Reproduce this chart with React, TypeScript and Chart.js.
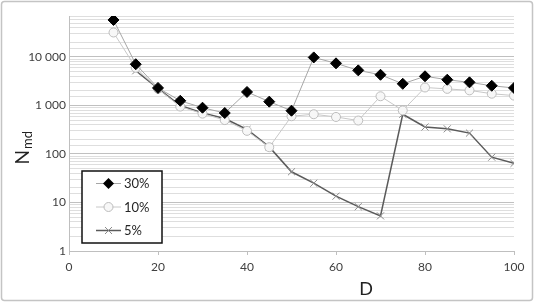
import React, { useEffect, useRef } from "react";
import { Chart, registerables } from "chart.js";

Chart.register(...registerables);

const dValues = [10, 15, 20, 25, 30, 35, 40, 45, 50, 55, 60, 65, 70, 75, 80, 85, 90, 95, 100];
const series30 = [58000, 7100, 2300, 1250, 900, 700, 1900, 1200, 780, 9800, 7400, 5300, 4300, 2800, 4000, 3400, 3000, 2550, 2300];
const series10 = [32000, 6000, 2200, 950, 680, 500, 300, 138, 600, 660, 580, 490, 1550, 790, 2350, 2200, 2050, 1750, 1600];
const series5 = [null, 5200, 2250, 1000, 700, 540, 320, 140, 43, 25, 13.5, 8.2, 5.3, 660, 360, 330, 270, 86, 64];
const seriesNames = ["30%", "10%", "5%"];
const yMajorTicks = [1, 10, 100, 1000, 10000];
const xTickStep = 20;

const FONT = "Lato, 'Open Sans', 'Liberation Sans', sans-serif";

function fmt(v: number) {
  return String(v).replace(/\B(?=(\d{3})+(?!\d))/g, " ");
}

function drawMarker(ctx: CanvasRenderingContext2D, kind: number, x: number, y: number) {
  ctx.save();
  if (kind === 0) {
    const r = 5.5;
    ctx.beginPath();
    ctx.moveTo(x, y - r);
    ctx.lineTo(x + r, y);
    ctx.lineTo(x, y + r);
    ctx.lineTo(x - r, y);
    ctx.closePath();
    ctx.fillStyle = "#000";
    ctx.fill();
  } else if (kind === 1) {
    ctx.beginPath();
    ctx.arc(x, y, 4.5, 0, Math.PI * 2);
    ctx.fillStyle = "#f7f7f7";
    ctx.fill();
    ctx.strokeStyle = "#bdbdbd";
    ctx.lineWidth = 1;
    ctx.stroke();
  } else {
    const r = 3.5;
    ctx.beginPath();
    ctx.moveTo(x - r, y - r);
    ctx.lineTo(x + r, y + r);
    ctx.moveTo(x + r, y - r);
    ctx.lineTo(x - r, y + r);
    ctx.strokeStyle = "#8c8c8c";
    ctx.lineWidth = 1;
    ctx.stroke();
  }
  ctx.restore();
}

const decorPlugin = {
  id: "decor",
  afterDraw(chart: any) {
    const ctx: CanvasRenderingContext2D = chart.ctx;
    ctx.save();
    // outer border
    ctx.strokeStyle = "#c4c4c4";
    ctx.lineWidth = 1.5;
    ctx.beginPath();
    const bx = 1.5, by = 1.5, bw = 531, bh = 299, rr = 3;
    ctx.moveTo(bx + rr, by);
    ctx.arcTo(bx + bw, by, bx + bw, by + bh, rr);
    ctx.arcTo(bx + bw, by + bh, bx, by + bh, rr);
    ctx.arcTo(bx, by + bh, bx, by, rr);
    ctx.arcTo(bx, by, bx + bw, by, rr);
    ctx.closePath();
    ctx.stroke();

    // axis titles
    ctx.fillStyle = "#222";
    ctx.font = `18px ${FONT}`;
    ctx.textAlign = "center";
    ctx.textBaseline = "middle";
    ctx.fillText("D", 366, 289);

    ctx.save();
    ctx.translate(22, 148);
    ctx.rotate(-Math.PI / 2);
    ctx.textAlign = "left";
    ctx.textBaseline = "alphabetic";
    ctx.font = `19px ${FONT}`;
    const nW = ctx.measureText("N").width;
    ctx.fillText("N", -nW - 2, 7);
    ctx.font = `13px ${FONT}`;
    ctx.fillText("md", -1, 10);
    ctx.restore();

    // legend
    const lx = 82, ly = 171, lw = 80, lh = 72;
    ctx.fillStyle = "#fff";
    ctx.fillRect(lx, ly, lw, lh);
    ctx.strokeStyle = "#111";
    ctx.lineWidth = 1.5;
    ctx.strokeRect(lx, ly, lw, lh);
    const rows = [183.5, 207, 230.5];
    const lineColors = ["#a6a6a6", "#c8c8c8", "#5a5a5a"];
    const lineWidths = [1, 1, 1.5];
    ctx.font = `13px ${FONT}`;
    ctx.textAlign = "left";
    ctx.textBaseline = "middle";
    rows.forEach((yy, i) => {
      ctx.strokeStyle = lineColors[i];
      ctx.lineWidth = lineWidths[i];
      ctx.beginPath();
      ctx.moveTo(96, yy);
      ctx.lineTo(121, yy);
      ctx.stroke();
      drawMarker(ctx, i, 108.5, yy);
      ctx.fillStyle = "#262626";
      ctx.fillText(seriesNames[i], 124, yy + 0.5);
    });
    ctx.restore();
  },
};

export default function App() {
  const ref = useRef<HTMLCanvasElement>(null);
  useEffect(() => {
    document.body.style.margin = "0";
    const canvas = ref.current!;
    const toPts = (arr: (number | null)[]) => dValues.map((d, i) => ({ x: d, y: arr[i] }));
    const chart = new Chart(canvas, {
      type: "line",
      data: {
        datasets: [
          {
            label: seriesNames[0],
            data: toPts(series30) as any,
            borderColor: "#a6a6a6",
            borderWidth: 1,
            pointStyle: "rectRot",
            pointRadius: 5.5,
            pointBackgroundColor: "#000",
            pointBorderColor: "#000",
            pointBorderWidth: 1,
            order: 1,
          },
          {
            label: seriesNames[1],
            data: toPts(series10) as any,
            borderColor: "#c8c8c8",
            borderWidth: 1,
            pointStyle: "circle",
            pointRadius: 4.5,
            pointBackgroundColor: "#f7f7f7",
            pointBorderColor: "#bdbdbd",
            pointBorderWidth: 1,
            order: 2,
          },
          {
            label: seriesNames[2],
            data: toPts(series5) as any,
            borderColor: "#5a5a5a",
            borderWidth: 1.5,
            pointStyle: "crossRot",
            pointRadius: 5,
            pointBorderColor: "#8c8c8c",
            pointBorderWidth: 1,
            order: 3,
          },
        ],
      },
      options: {
        animation: false,
        responsive: false,
        devicePixelRatio: 1,
        layout: { padding: { left: 0, right: 22, top: 16, bottom: 0 } },
        plugins: { legend: { display: false }, tooltip: { enabled: false } },
        scales: {
          x: {
            type: "linear",
            min: 0,
            max: 100,
            ticks: {
              stepSize: xTickStep,
              color: "#404040",
              font: { family: FONT, size: 12 },
              padding: 5,
              maxRotation: 0,
            },
            grid: { drawOnChartArea: false, drawTicks: true, tickLength: 4, color: "#bfbfbf" },
            border: { display: true, color: "#bfbfbf" },
            afterFit: (s: any) => {
              s.height = 52;
            },
          },
          y: {
            type: "logarithmic",
            min: 1,
            max: 70000,
            ticks: {
              autoSkip: false,
              color: "#404040",
              font: { family: FONT, size: 12 },
              padding: 3,
              callback: (v: any) => (yMajorTicks.includes(Number(v)) ? fmt(Number(v)) : ""),
            },
            grid: {
              drawTicks: false,
              color: (c: any) => (yMajorTicks.includes(Number(c.tick?.value)) ? "#c0c0c0" : "#dedede"),
            },
            border: { display: true, color: "#bfbfbf" },
            afterFit: (s: any) => {
              s.width = 69;
            },
          },
        },
      },
      plugins: [decorPlugin],
    });
    return () => chart.destroy();
  }, []);
  return (
    <div style={{ position: "relative", width: 536, height: 303, background: "#fff" }}>
      <canvas ref={ref} width={536} height={303} style={{ display: "block", width: 536, height: 303 }} />
    </div>
  );
}
